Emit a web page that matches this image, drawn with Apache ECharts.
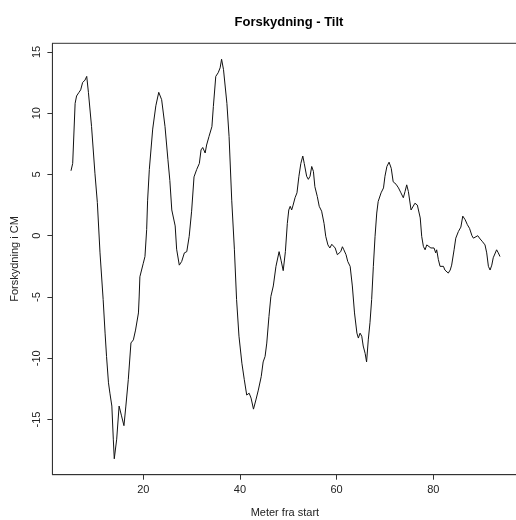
<!DOCTYPE html>
<html>
<head>
<meta charset="utf-8">
<script src="https://cdn.jsdelivr.net/npm/echarts@6/dist/echarts.min.js"></script>
<style>html,body{margin:0;padding:0;background:#fff}#c{width:516px;height:520px}</style>
</head>
<body>
<div id="c"></div>
<script>
const xs = [5.05,5.4,5.9,6.2,6.7,7.05,7.45,7.95,8.3,8.65,9.3,10.0,10.5,11.05,11.7,12.1,12.4,12.8,13.1,13.5,13.8,14.0,14.5,15.0,15.5,16.0,16.4,16.9,17.45,17.95,18.4,19.0,19.15,19.3,20.0,20.35,20.7,20.9,21.25,21.95,22.6,23.2,23.8,24.5,25.1,25.5,25.9,26.6,26.9,27.45,27.95,28.5,29.0,29.5,30.0,30.5,31.05,31.6,31.95,32.3,32.8,33.1,33.6,34.2,34.5,35.0,35.5,35.9,36.2,36.6,37.3,37.75,38.3,38.85,39.3,39.8,40.4,40.9,41.4,41.9,42.3,42.8,43.3,43.8,44.4,44.8,45.2,45.55,46.0,46.4,46.9,47.45,48.1,48.5,48.95,49.4,49.8,50.1,50.4,50.7,51.0,51.4,51.8,52.2,52.6,53.0,53.3,53.8,54.15,54.5,54.85,55.2,55.5,56.0,56.4,56.9,57.4,57.75,58.2,58.6,59.0,59.3,59.7,60.15,60.5,60.85,61.2,61.5,61.95,62.3,62.8,63.25,63.7,64.2,64.5,64.85,65.2,65.5,65.9,66.2,66.55,66.9,67.25,67.6,67.95,68.3,68.6,69.2,69.7,70.0,70.4,70.85,71.3,71.7,72.3,72.8,73.3,73.8,74.15,74.5,74.85,75.4,75.75,76.2,76.7,77.3,77.6,77.95,78.3,78.65,79.0,79.5,79.8,80.15,80.5,80.7,81.05,81.4,81.75,82.1,82.4,82.8,83.1,83.5,83.8,84.3,84.65,85.2,85.7,86.1,86.6,87.05,87.5,88.0,88.3,88.65,89.2,89.7,90.1,90.7,91.05,91.4,91.75,92.1,92.4,92.8,93.1,93.45,93.8];
const ys = [5.3,5.9,10.8,11.4,11.7,11.9,12.5,12.7,13.0,11.7,8.9,5.1,2.7,-1.4,-5.2,-7.95,-9.85,-12.0,-12.85,-13.9,-16.6,-18.2,-16.6,-13.9,-14.7,-15.5,-13.9,-11.75,-8.75,-8.5,-7.7,-6.3,-5.0,-3.35,-2.25,-1.7,0.5,2.9,5.4,8.7,10.6,11.7,11.1,8.9,6.2,4.5,2.1,0.8,-1.1,-2.4,-2.1,-1.4,-1.3,-0.05,2.0,4.8,5.4,5.9,7.0,7.2,6.75,7.4,8.1,8.9,10.55,13.0,13.3,13.7,14.4,13.55,10.8,8.1,2.9,-1.1,-5.2,-8.2,-10.4,-11.75,-13.0,-12.85,-13.25,-14.15,-13.4,-12.6,-11.5,-10.3,-9.85,-8.76,-6.6,-4.95,-4.1,-2.5,-1.3,-2.0,-2.85,-1.3,1.0,2.1,2.4,2.1,2.5,3.1,3.5,4.85,5.9,6.5,5.9,4.85,4.6,4.85,5.65,5.25,4.0,3.2,2.4,2.0,1.0,-0.05,-0.75,-1.0,-0.7,-0.6,-1.0,-1.55,-1.7,-1.3,-0.9,-1.15,-1.55,-2.1,-2.5,-4.1,-6.3,-7.95,-8.35,-7.95,-8.2,-9.0,-9.6,-10.3,-8.5,-7.1,-5.2,-2.5,-0.05,1.85,2.8,3.5,3.9,4.85,5.65,6.0,5.5,4.4,4.2,3.9,3.5,3.1,3.6,4.15,3.6,2.1,2.25,2.65,2.5,1.45,-0.05,-0.87,-1.15,-0.75,-0.65,-1.0,-1.15,-1.0,-1.4,-1.15,-1.95,-2.5,-2.65,-2.5,-2.8,-2.9,-3.05,-2.8,-2.4,-1.15,-0.2,0.35,0.7,1.6,1.3,0.9,0.6,0.0,-0.2,-0.05,0.0,-0.27,-0.45,-0.75,-1.4,-2.5,-2.8,-2.4,-1.8,-1.7,-1.15,-1.4,-1.7];
const xTicks = [20,40,60,80];
const yTicks = [-15,-10,-5,0,5,10,15];
const titleText = "Forskydning - Tilt";
const xName = "Meter fra start";
const yName = "Forskydning i CM";

const data = xs.map((x,i)=>[x, ys[i]]);
const font = "Liberation Sans, Arial, sans-serif";
const chart = echarts.init(document.getElementById('c'), null, {renderer:'canvas'});
chart.setOption({
  animation:false,
  backgroundColor:'#fff',
  title:{text:titleText, left:284, top:11, textAlign:'center',
    textStyle:{fontFamily:font, fontSize:13, fontWeight:'bold', color:'#000'}},
  grid:{left:52.4, top:43.3, width:465, height:431.4, outerBoundsMode:'none', containLabel:false,
    show:true, borderColor:'#333', borderWidth:1, backgroundColor:'transparent'},
  xAxis:{type:'value', min:1.2, max:97.4,
    name:xName, nameLocation:'middle', nameGap:33,
    nameTextStyle:{fontFamily:font, fontSize:11, color:'#222'},
    axisLine:{show:true, onZero:false, lineStyle:{color:'#333', width:1}},
    axisTick:{show:true, length:5, customValues:xTicks, lineStyle:{color:'#333'}},
    axisLabel:{customValues:xTicks, margin:10, fontFamily:font, fontSize:11, color:'#222'},
    splitLine:{show:false}},
  yAxis:{type:'value', min:-19.5, max:15.7,
    name:yName, nameLocation:'middle', nameGap:32, nameRotate:90,
    nameTextStyle:{fontFamily:font, fontSize:11, color:'#222'},
    axisLine:{show:true, onZero:false, lineStyle:{color:'#333', width:1}},
    axisTick:{show:true, length:5, customValues:yTicks, lineStyle:{color:'#333'}},
    axisLabel:{customValues:yTicks, rotate:90, margin:10, fontFamily:font, fontSize:11, color:'#222'},
    splitLine:{show:false}},
  series:[{type:'line', data:data, showSymbol:false, symbol:'none',
    lineStyle:{color:'#111', width:1}, silent:true}]
});
</script>
</body>
</html>
